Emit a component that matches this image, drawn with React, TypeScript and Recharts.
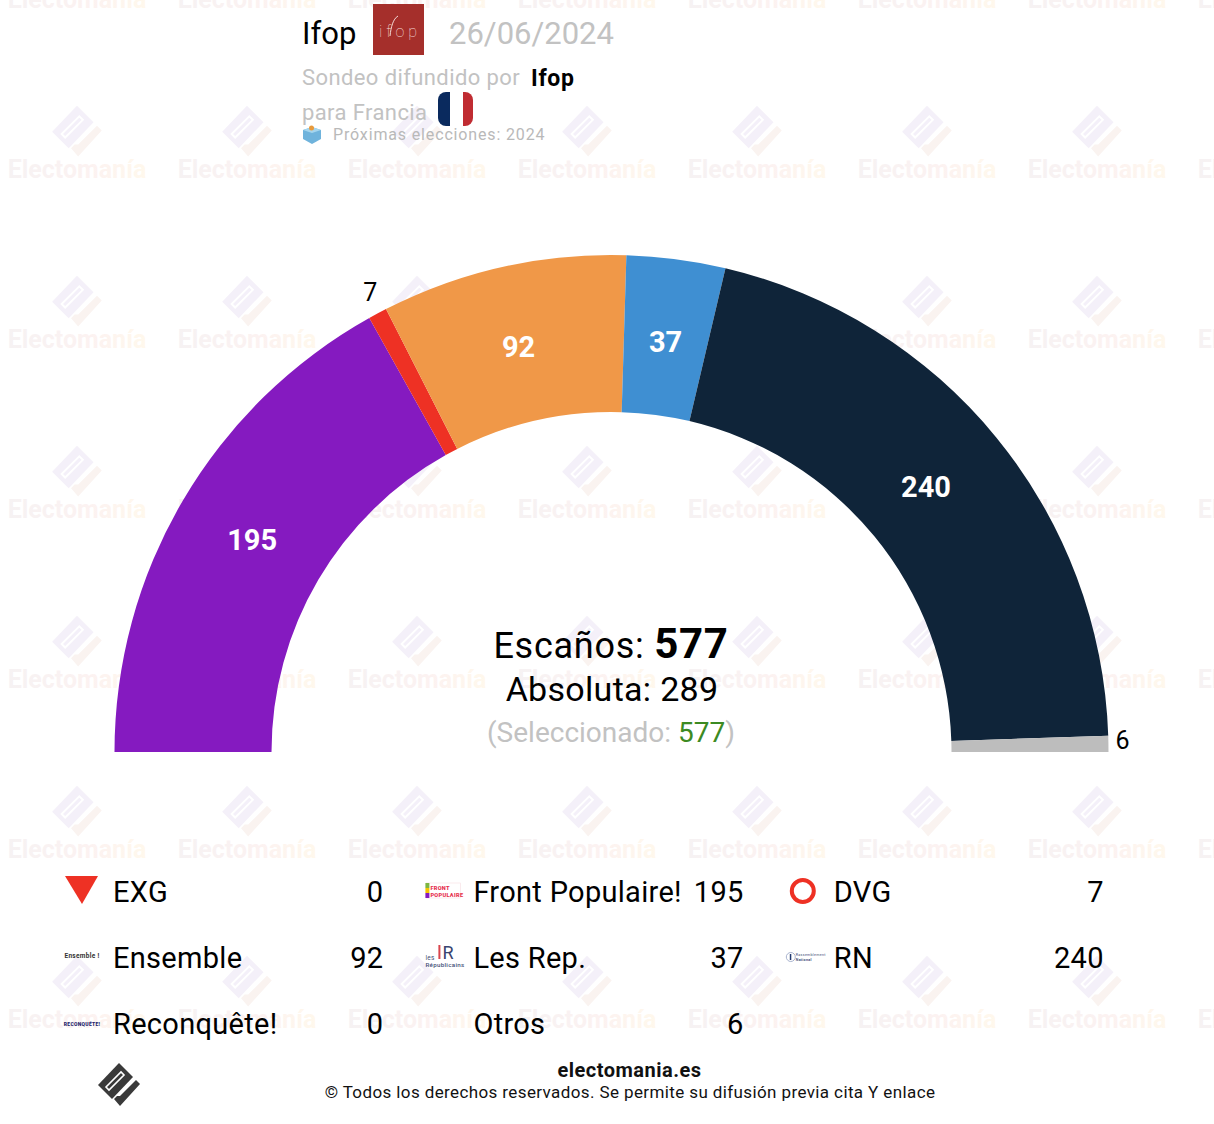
import { Pie, PieChart } from 'recharts';

const parties = ['EXG', 'Front Populaire!', 'DVG', 'Ensemble', 'Les Rep.', 'RN', 'Reconquête!', 'Otros'];
const seats = [0, 195, 7, 92, 37, 240, 0, 6];
const colors = ['#EE3124', '#851AC0', '#EE3124', '#F09848', '#3F8FD2', '#0F2439', '#1D1D6B', '#BDBDBD'];

const watermarkColumns = [77, 247, 417, 587, 757, 927, 1097, 1267];
const watermarkRows = [0, 170, 340, 510, 680, 850, 1020];

const FONT = 'Roboto, sans-serif';
const GREY = '#c2c2c2';

const tableData = parties.map((name, i) => ({ name, value: seats[i], fill: colors[i] }));

// small hand tweaks so the numbers sit where the original puts them
const labelNudge: Record<string, number[]> = {
    'Front Populaire!': [-1, -2],
    DVG: [2, -3],
    Ensemble: [-2, 0],
    'Les Rep.': [0, 2],
    RN: [-7, -2],
    Otros: [-6, -3],
};

function renderSliceLabel(props: any) {
    const { cx, cy, midAngle, innerRadius, outerRadius, value, name } = props;
    if (!value) return null;
    const small = value < 10;
    const rad = (midAngle * Math.PI) / 180;
    const r = small ? outerRadius + 20 : (innerRadius + outerRadius) / 2 - 3;
    const [dx, dy] = labelNudge[name] || [0, 0];
    return (
        <text
            x={cx + r * Math.cos(rad) + dx}
            y={cy - r * Math.sin(rad) + dy}
            textAnchor="middle"
            dominantBaseline="central"
            fontFamily={FONT}
            fontSize={small ? 25 : 29}
            fontWeight={small ? 400 : 700}
            fill={small ? '#000' : '#fff'}
        >
            {value}
        </text>
    );
}

function LogoMark({ x, y, scale, body, check }: { x: number; y: number; scale: number; body: string; check: string }) {
    return (
        <g transform={`translate(${x} ${y}) scale(${scale})`}>
            <polygon points="22,1 36,15 15,37 1,23" fill={body} />
            <polygon points="9,25 24,10 27,13 12,28" fill="none" stroke="#fff" strokeWidth={1.6} />
            <polygon points="17,37 23,44 43,22 39,18 23,34 20,34" fill={check} />
        </g>
    );
}

function Watermark() {
    return (
        <svg width={1214} height={1124} style={{ position: 'absolute', left: 0, top: 0 }}>
            <defs>
                <linearGradient id="markText" x1="0" y1="0" x2="1" y2="0">
                    <stop offset="0%" stopColor="#f6f2f3" />
                    <stop offset="60%" stopColor="#fcf2f1" />
                    <stop offset="100%" stopColor="#fff8ec" />
                </linearGradient>
            </defs>
            {watermarkColumns.map((cx) =>
                watermarkRows.map((cy) => (
                    <g key={`${cx}-${cy}`}>
                        <LogoMark x={cx - 26} y={cy - 65.5} scale={1.18} body="#f4f0f9" check="#faf3f0" />
                        <text
                            x={cx}
                            y={cy + 8}
                            textAnchor="middle"
                            fontFamily={FONT}
                            fontWeight={700}
                            fontSize={25}
                            fill="url(#markText)"
                        >
                            Electomanía
                        </text>
                    </g>
                ))
            )}
        </svg>
    );
}

function Header() {
    return (
        <g fontFamily={FONT}>
            <text x={302} y={44} fontSize={31} fill="#000">Ifop</text>
            <rect x={373} y={4} width={51} height={51} fill="#A52F2B" />
            <text x={400} y={37} textAnchor="middle" fontSize={16} fontWeight={100} letterSpacing={4} fill="#f3dcd9">ifop</text>
            <path d="M390 36 C391 27 393 19 398 16" fill="none" stroke="#f3dcd9" strokeWidth={1} />
            <text x={449} y={44} fontSize={31} fill={GREY}>26/06/2024</text>
            <text x={302} y={85} fontSize={22} letterSpacing={0.4} fill={GREY}>Sondeo difundido por</text>
            <text x={531} y={86} fontSize={23} fontWeight={700} letterSpacing={0.7} fill="#000">Ifop</text>
            <text x={302} y={120} fontSize={22} letterSpacing={0.4} fill={GREY}>para Francia</text>
            <clipPath id="flagClip">
                <rect x={438} y={92} width={35} height={34} rx={8} />
            </clipPath>
            <g clipPath="url(#flagClip)">
                <rect x={438} y={92} width={12} height={34} fill="#0A2A5E" />
                <rect x={450} y={92} width={13} height={34} fill="#fff" />
                <rect x={463} y={92} width={10} height={34} fill="#C02C32" />
            </g>
            <polygon points="303,130 312,127 321,130 321,139 312,144 303,139" fill="#6FB3DC" />
            <polygon points="303,130 312,133 321,130 312,127" fill="#A5D5EE" />
            <circle cx={311.5} cy={128} r={2.5} fill="#E89A3C" />
            <text x={333} y={140} fontSize={16} letterSpacing={0.85} fill="#b9b9b9">Próximas elecciones: 2024</text>
        </g>
    );
}

function CenterText() {
    return (
        <g fontFamily={FONT} textAnchor="middle">
            <text x={611} y={658} fontSize={36} letterSpacing={0.75} fill="#000">
                Escaños: <tspan fontWeight={700} fontSize={42} letterSpacing={0.7}>577</tspan>
            </text>
            <text x={612} y={701} fontSize={34} letterSpacing={0.3} fill="#000">Absoluta: 289</text>
            <text x={611} y={742} fontSize={28} fill={GREY}>
                (Seleccionado: <tspan fill="#3C8A22">577</tspan>)
            </text>
        </g>
    );
}

function PartyIcon({ name, x, y }: { name: string; x: number; y: number }) {
    if (name === 'EXG') return <polygon points={`${x - 17},${y - 15} ${x + 16},${y - 15} ${x},${y + 13}`} fill="#EE3124" />;
    if (name === 'DVG') return <circle cx={x} cy={y} r={11} fill="none" stroke="#EE3124" strokeWidth={4} />;
    if (name === 'Front Populaire!') {
        return (
            <g fontFamily={FONT} fontWeight={900}>
                <rect x={x - 16} y={y - 8} width={34} height={15} fill="#fff" stroke="#f6d5dc" strokeWidth={0.5} />
                <rect x={x - 17} y={y - 8} width={4} height={5} fill="#7DB642" />
                <rect x={x - 17} y={y - 3} width={4} height={5} fill="#F5C400" />
                <rect x={x - 17} y={y + 2} width={4} height={5} fill="#851AC0" />
                <text x={x - 12} y={y - 1} fontSize={5.6} fill="#E6304E">FRONT</text>
                <text x={x - 12} y={y + 5.5} fontSize={5.6} fill="#E6304E">POPULAIRE</text>
            </g>
        );
    }
    if (name === 'Ensemble') return <text x={x} y={y + 1} textAnchor="middle" fontFamily={FONT} fontWeight={700} fontSize={6.5} fill="#333">Ensemble !</text>;
    if (name === 'Les Rep.') {
        return (
            <g fontFamily={FONT} fill="#3F4F78">
                <text x={x} y={y + 2} fontSize={18} fill="#39456F">R</text>
                <rect x={x - 4} y={y - 12} width={2} height={14} fill="#D9454C" />
                <text x={x - 17} y={y + 3} fontSize={6.5}>les</text>
                <text x={x - 17} y={y + 10} fontSize={6.2} fontWeight={500}>Républicains</text>
            </g>
        );
    }
    if (name === 'RN') {
        return (
            <g fontFamily={FONT} fontSize={3.6} fill="#3F4F78">
                <circle cx={x - 12} cy={y} r={4.5} fill="none" stroke="#a9b4cf" />
                <rect x={x - 13} y={y - 3} width={1.5} height={6} fill="#223A70" />
                <text x={x - 7} y={y - 1}>Rassemblement</text>
                <text x={x - 7} y={y + 4} fontWeight={700}>National</text>
            </g>
        );
    }
    if (name === 'Reconquête!') return <text x={x} y={y + 3} textAnchor="middle" fontFamily={FONT} fontWeight={900} fontSize={5} fill="#1D1D6B">RECONQUÊTE!</text>;
    return null;
}

function PartyTable() {
    return (
        <g fontFamily={FONT} fontSize={29} letterSpacing={0.3} fill="#000">
            {parties.map((name, i) => {
                const col = i % 3;
                const row = Math.floor(i / 3);
                const baseline = 902 + row * 66;
                const left = 113 + col * 360.4;
                const right = 383.4 + col * 360.2;
                return (
                    <g key={name}>
                        <PartyIcon name={name} x={left - 31} y={baseline - 11} />
                        <text x={left} y={baseline}>{name}</text>
                        <text x={right} y={baseline} textAnchor="end">{seats[i]}</text>
                    </g>
                );
            })}
        </g>
    );
}

function Footer() {
    return (
        <g fontFamily={FONT} textAnchor="middle" fill="#111">
            <LogoMark x={97} y={1062} scale={1} body="#3a3a3a" check="#3a3a3a" />
            <text x={629.5} y={1077} fontSize={20} fontWeight={700} letterSpacing={0.5}>electomania.es</text>
            <text x={630} y={1098} fontSize={17} letterSpacing={0.39}>© Todos los derechos reservados. Se permite su difusión previa cita Y enlace</text>
        </g>
    );
}

export default function App() {
    return (
        <div style={{ position: 'absolute', left: 0, top: 0, width: 1214, height: 1124, background: '#fff', overflow: 'hidden' }}>
            <Watermark />
            <div style={{ position: 'absolute', left: 0, top: 0 }}>
                <PieChart width={1214} height={1124} margin={{ top: 0, right: 0, bottom: 0, left: 0 }}>
                    <Pie
                        data={tableData}
                        dataKey="value"
                        nameKey="name"
                        cx={611.5}
                        cy={752}
                        startAngle={180}
                        endAngle={0}
                        innerRadius={340}
                        outerRadius={497}
                        stroke="none"
                        label={renderSliceLabel}
                        labelLine={false}
                        isAnimationActive={false}
                    />
                </PieChart>
            </div>
            <svg width={1214} height={1124} style={{ position: 'absolute', left: 0, top: 0 }}>
                <Header />
                <CenterText />
                <PartyTable />
                <Footer />
            </svg>
        </div>
    );
}
